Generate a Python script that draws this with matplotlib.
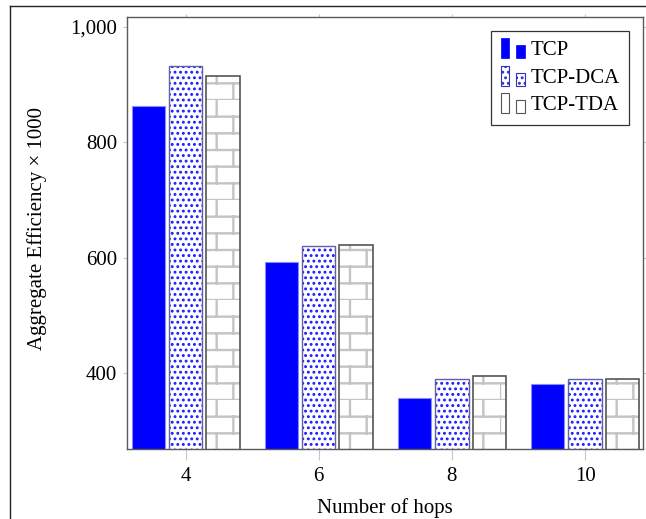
import warnings
import numpy as np
import matplotlib
matplotlib.use("Agg")
import matplotlib.pyplot as plt
import matplotlib.hatch as mhatch
from matplotlib.patches import Patch, Rectangle
from matplotlib.legend_handler import HandlerBase
from matplotlib.lines import Line2D

warnings.filterwarnings("ignore")

hops = [4, 6, 8, 10]
tcp = [862, 593, 356, 381]
tcp_dca = [932, 620, 390, 390]
tcp_tda = [914, 622, 395, 390]
series_names = ["TCP", "TCP-DCA", "TCP-TDA"]
yticks = [400, 600, 800, 1000]
ytick_labels = ["400", "600", "800", "1,000"]

BAR_W = 0.5
OFFSET = 0.56


class BrickHatch(mhatch.HatchPatternBase):
    # 'b' -> brick wall pattern, 6 rows and 3 bricks per tile
    def __init__(self, hatch, density):
        self.rows = 6 if 'b' in hatch else 0
        self.cols = 3
        self.num_vertices = (self.rows + self.rows * self.cols) * 2

    def set_vertices_and_codes(self, vertices, codes):
        segs = []
        for i in range(self.rows):
            y0 = i / self.rows
            y1 = (i + 1) / self.rows
            segs.append(((0, y0), (1, y0)))
            shift = 0.5 / self.cols if i % 2 else 0.0
            for j in range(self.cols):
                x = j / self.cols + shift
                segs.append(((x, y0), (x, y1)))
        k = 0
        for a, b in segs:
            vertices[k] = a
            vertices[k + 1] = b
            codes[k] = 1
            codes[k + 1] = 2
            k += 2


mhatch._hatch_types.append(BrickHatch)

plt.rcParams['font.family'] = ['Liberation Serif', 'DejaVu Serif']
plt.rcParams['font.size'] = 15
plt.rcParams['hatch.linewidth'] = 1.3


def hatch_lw(bars, lw):
    for b in bars:
        if hasattr(b, 'set_hatch_linewidth'):
            b.set_hatch_linewidth(lw)


class TwoBars(HandlerBase):
    def create_artists(self, legend, orig_handle, xdescent, ydescent,
                       width, height, fontsize, trans):
        w = width * 0.34
        h = height * 1.25
        y0 = -ydescent - 0.12 * height
        r1 = Rectangle((-xdescent + width * 0.02, y0), w, h)
        r2 = Rectangle((-xdescent + width * 0.64, y0), w * 1.05, h * 0.65)
        out = []
        for r in (r1, r2):
            r.update_from(orig_handle)
            r.set_transform(trans)
            out.append(r)
        return out


fig = plt.figure(figsize=(6.46, 5.19), dpi=100)
ax = fig.add_axes([0.1966, 0.1349, 0.7988, 0.8323])

x = np.array(hops, dtype=float)
ax.bar(x - OFFSET, tcp, BAR_W, color='#0000ff', edgecolor='#8a8aff',
       linewidth=0.8, zorder=2)
dots = ax.bar(x, tcp_dca, BAR_W, color='white', edgecolor='#1a1aff',
              hatch='...', linewidth=0, zorder=2)
hatch_lw(dots, 1.3)
ax.bar(x, tcp_dca, BAR_W, fill=False, edgecolor='#6060a8', linewidth=1.0,
       zorder=3)
with plt.rc_context({'hatch.linewidth': 1.7}):
    bricks = ax.bar(x + OFFSET, tcp_tda, BAR_W, color='white',
                    edgecolor='#c4c4c4', hatch='b', linewidth=0, zorder=2)
hatch_lw(bricks, 1.7)
ax.bar(x + OFFSET, tcp_tda, BAR_W, fill=False, edgecolor='#555555',
       linewidth=1.2, zorder=3)

ax.set_xlim(3.12, 10.87)
ax.set_ylim(268, 1017)
ax.set_xticks(hops)
ax.set_xticklabels([str(h) for h in hops])
ax.set_yticks(yticks)
ax.set_yticklabels(ytick_labels)

for s in ax.spines.values():
    s.set_color('#5a5a5a')
    s.set_linewidth(1.0)

ax.tick_params(axis='both', direction='out', color='#c8c8c8', width=0.8,
               top=True, right=True)
ax.tick_params(axis='y', length=3, pad=4)
ax.tick_params(axis='x', length=8, pad=5)
for t in ax.xaxis.get_major_ticks():
    t.tick2line.set_markersize(2.5)

ax.set_xlabel("Number of hops", labelpad=9)
ax.set_ylabel("Aggregate Efficiency \u00d7 1000")
ax.yaxis.set_label_coords(-0.155, 0.51)

handles = [
    Patch(facecolor='#0000ff', edgecolor='#0000ff', linewidth=0.5),
    Patch(facecolor='white', edgecolor='#3030c0', hatch='...', linewidth=0.8),
    Patch(facecolor='white', edgecolor='#555555', linewidth=0.8),
]
leg = ax.legend(handles, series_names, loc='upper right',
                bbox_to_anchor=(0.973, 0.968), borderaxespad=0,
                handler_map={Patch: TwoBars()}, handlelength=1.2,
                handleheight=0.8, handletextpad=0.25, labelspacing=0.35,
                borderpad=0.45, fancybox=False, framealpha=1,
                edgecolor='#333333')
leg.get_frame().set_linewidth(0.9)

# outer frame of the page
fig.add_artist(Line2D([10 / 646, 1.0], [1 - 6 / 519, 1 - 6 / 519],
                      color='#222222', linewidth=1.0))
fig.add_artist(Line2D([10 / 646, 10 / 646], [0.0, 1 - 6 / 519],
                      color='#222222', linewidth=1.0))

fig.savefig('out.png', dpi=100)
